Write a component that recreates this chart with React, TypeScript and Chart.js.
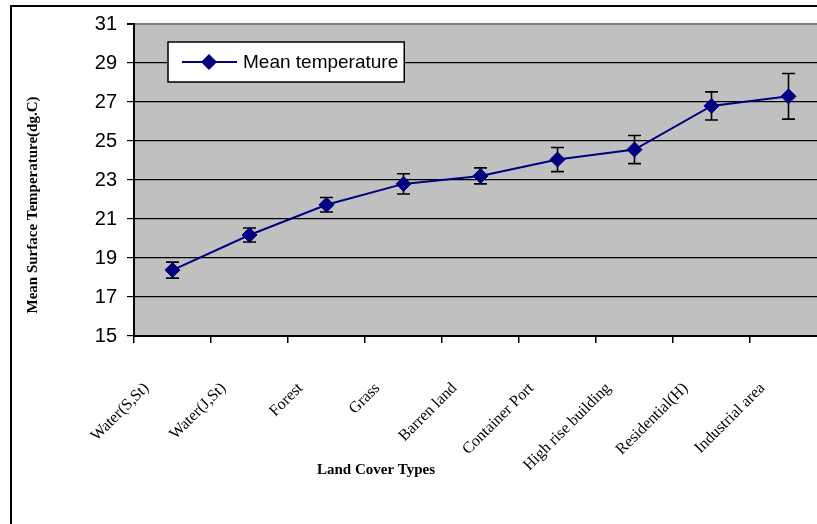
import React, { useEffect, useRef } from 'react';
import { Chart, registerables } from 'chart.js';

Chart.register(...registerables);

// ---------- data ----------
const categories = [
  'Water(S,St)',
  'Water(J,St)',
  'Forest',
  'Grass',
  'Barren land',
  'Container Port',
  'High rise building',
  'Residential(H)',
  'Industrial area',
];
const meanTemperature = [18.38, 20.18, 21.73, 22.8, 23.21, 24.05, 24.56, 26.8, 27.29];
const errorMargin = [0.41, 0.36, 0.37, 0.52, 0.41, 0.62, 0.72, 0.72, 1.17];
const yMin = 15;
const yMax = 31;
const yStep = 2;
const seriesName = 'Mean temperature';
const xTitle = 'Land Cover Types';
const yTitle = 'Mean Surface Temperature(dg.C)';

const NAVY = '#000080';
const SANS = "'Liberation Sans', Arial, sans-serif";
const SERIF = "'Liberation Serif', 'Times New Roman', serif";

const plotBackground = {
  id: 'plotBackground',
  beforeDraw(chart: any) {
    const { ctx, chartArea } = chart;
    ctx.save();
    ctx.fillStyle = '#C0C0C0';
    ctx.fillRect(chartArea.left, chartArea.top, chartArea.right - chartArea.left, chartArea.bottom - chartArea.top);
    ctx.restore();
  },
};

const errorBars = {
  id: 'errorBars',
  beforeDatasetsDraw(chart: any) {
    const { ctx } = chart;
    const xs = chart.scales.x;
    const ys = chart.scales.y;
    const cap = 6.5;
    ctx.save();
    ctx.strokeStyle = '#000';
    ctx.lineWidth = 1.6;
    meanTemperature.forEach((m, i) => {
      const x = xs.getPixelForValue(i);
      const yt = ys.getPixelForValue(m + errorMargin[i]);
      const yb = ys.getPixelForValue(m - errorMargin[i]);
      ctx.beginPath();
      ctx.moveTo(x, yt);
      ctx.lineTo(x, yb);
      ctx.moveTo(x - cap, yt);
      ctx.lineTo(x + cap, yt);
      ctx.moveTo(x - cap, yb);
      ctx.lineTo(x + cap, yb);
      ctx.stroke();
    });
    ctx.restore();
  },
};

const titlesAndLegend = {
  id: 'titlesAndLegend',
  afterDraw(chart: any) {
    const { ctx, chartArea } = chart;
    ctx.save();
    // axis titles
    ctx.fillStyle = '#000';
    ctx.font = `bold 15px ${SERIF}`;
    ctx.textAlign = 'center';
    ctx.textBaseline = 'middle';
    ctx.fillText(xTitle, chartArea.left + 242, chartArea.bottom + 134);
    ctx.save();
    ctx.translate(chartArea.left - 101, (chartArea.top + chartArea.bottom) / 2 + 25);
    ctx.rotate(-Math.PI / 2);
    ctx.fillText(yTitle, 0, 0);
    ctx.restore();

    // legend box
    ctx.font = `19px ${SANS}`;
    const tw = ctx.measureText(seriesName).width;
    const bx = chartArea.left + 34;
    const by = chartArea.top + 18;
    const bh = 40;
    const bw = 75 + tw + 6;
    ctx.fillStyle = '#fff';
    ctx.fillRect(bx, by, bw, bh);
    ctx.strokeStyle = '#000';
    ctx.lineWidth = 1.5;
    ctx.strokeRect(bx, by, bw, bh);
    const cy = by + bh / 2;
    ctx.strokeStyle = NAVY;
    ctx.lineWidth = 2;
    ctx.beginPath();
    ctx.moveTo(bx + 14, cy);
    ctx.lineTo(bx + 69, cy);
    ctx.stroke();
    const dx = bx + 41;
    const r = 8;
    ctx.fillStyle = NAVY;
    ctx.beginPath();
    ctx.moveTo(dx - r, cy);
    ctx.lineTo(dx, cy - r);
    ctx.lineTo(dx + r, cy);
    ctx.lineTo(dx, cy + r);
    ctx.closePath();
    ctx.fill();
    ctx.fillStyle = '#000';
    ctx.textAlign = 'left';
    ctx.textBaseline = 'middle';
    ctx.fillText(seriesName, bx + 75, cy + 1);
    ctx.restore();
  },
};

export default function App() {
  const ref = useRef<HTMLCanvasElement>(null);

  useEffect(() => {
    const canvas = ref.current;
    if (!canvas) return;
    const chart = new Chart(canvas, {
      type: 'line',
      data: {
        labels: categories,
        datasets: [
          {
            label: seriesName,
            data: meanTemperature,
            borderColor: NAVY,
            backgroundColor: NAVY,
            borderWidth: 2,
            tension: 0,
            pointStyle: 'rectRot',
            pointRadius: 7.5,
            pointHoverRadius: 7.5,
            pointBackgroundColor: NAVY,
            pointBorderColor: NAVY,
            pointBorderWidth: 1,
            fill: false,
          },
        ],
      },
      options: {
        animation: false,
        responsive: false,
        maintainAspectRatio: false,
        events: [],
        layout: { padding: { left: 12, top: 24, right: 33, bottom: 74 } },
        plugins: {
          legend: { display: false },
          tooltip: { enabled: false },
          title: { display: false },
        },
        scales: {
          x: {
            type: 'category',
            offset: true,
            grid: {
              display: true,
              drawOnChartArea: false,
              drawTicks: true,
              tickLength: 7,
              color: '#000',
              lineWidth: 1.5,
              offset: true,
            },
            border: { display: true, color: '#000', width: 2 },
            ticks: {
              autoSkip: false,
              maxRotation: 45,
              minRotation: 45,
              padding: 36,
              labelOffset: -26,
              color: '#000',
              font: { family: SERIF, size: 16 },
            },
            afterFit: (scale: any) => {
              scale.height = 150;
            },
          },
          y: {
            type: 'linear',
            min: yMin,
            max: yMax,
            grid: {
              color: (c: any) => (c.tick && c.tick.value === yMax ? '#808080' : '#000'),
              lineWidth: (c: any) => (c.tick && c.tick.value === yMax ? 2 : 1.2),
              tickColor: '#000',
              tickLength: 7,
              drawTicks: true,
            },
            border: { display: true, color: '#000', width: 2 },
            ticks: {
              stepSize: yStep,
              padding: 10,
              color: '#000',
              font: { family: SANS, size: 20 },
            },
            afterFit: (scale: any) => {
              scale.width = 122;
            },
          },
        },
      },
      plugins: [plotBackground, errorBars, titlesAndLegend],
    } as any);
    return () => chart.destroy();
  }, []);

  return (
    <div
      style={{
        position: 'fixed',
        left: 0,
        top: 0,
        width: 817,
        height: 524,
        overflow: 'hidden',
        background: '#fff',
      }}
    >
      <canvas
        ref={ref}
        width={860}
        height={560}
        style={{ position: 'absolute', left: 0, top: 0, width: 860, height: 560 }}
      />
      <div
        style={{
          position: 'absolute',
          left: 10,
          top: 5,
          width: 900,
          height: 600,
          border: '2px solid #000',
          boxSizing: 'border-box',
          pointerEvents: 'none',
        }}
      />
    </div>
  );
}
